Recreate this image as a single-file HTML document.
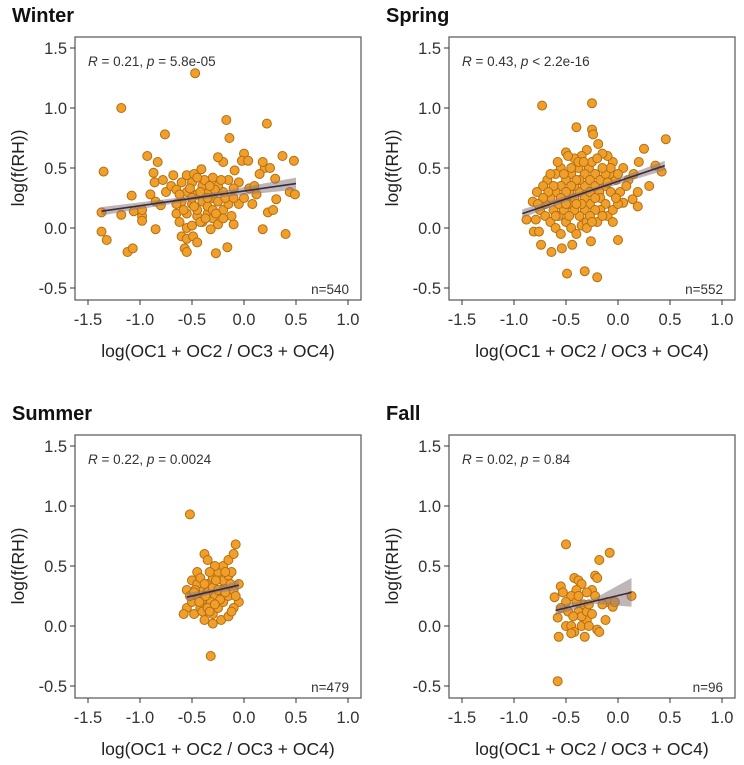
<!DOCTYPE html>
<html><head><meta charset="utf-8">
<style>
body{margin:0;background:#fff;}
svg{display:block;font-family:"Liberation Sans",Arial,sans-serif;}
</style></head>
<body>
<svg id="chart" width="744" height="765" viewBox="0 0 744 765"></svg>
<script>
const panelTitles = ["Winter","Spring","Summer","Fall"];
const statR = ["0.21","0.43","0.22","0.02"];
const statP = ["= 5.8e-05","< 2.2e-16","= 0.0024","= 0.84"];
const sampleN = ["n=540","n=552","n=479","n=96"];
const xTicks = [-1.5,-1.0,-0.5,0.0,0.5,1.0];
const xTickLabels = ["-1.5","-1.0","-0.5","0.0","0.5","1.0"];
const yTicks = [1.5,1.0,0.5,0.0,-0.5];
const yTickLabels = ["1.5","1.0","0.5","0.0","-0.5"];
const fitLines = [[-1.37,0.14,0.5,0.37],[-0.92,0.12,0.45,0.52],[-0.55,0.24,-0.05,0.34],[-0.6,0.13,0.13,0.28]];
const fitBands = [[0.035,0.05],[0.035,0.04],[0.035,0.04],[0.04,0.12]];
const winterPts = [[-0.47,1.29],[-1.18,1.0],[-0.17,0.9],[0.22,0.87],[-0.76,0.78],[-0.14,0.75],[-1.35,0.47],[-0.93,0.6],[-0.83,0.55],[0.37,0.6],[0.48,0.56],[-1.37,0.13],[-1.37,-0.03],[-1.32,-0.1],[-1.12,-0.2],[-1.07,-0.17],[-1.18,0.11],[-1.08,0.27],[-1.06,0.14],[-0.98,0.1],[-0.98,0.06],[-0.98,0.15],[-0.85,-0.01],[-0.6,-0.07],[-0.55,-0.09],[-0.49,-0.07],[-0.57,-0.17],[-0.55,-0.2],[-0.45,-0.12],[-0.27,-0.21],[-0.16,-0.16],[-0.32,-0.01],[-0.1,0.03],[0.18,-0.01],[0.4,-0.05],[0.23,0.13],[0.28,0.15],[0.31,0.24],[0.44,0.3],[0.49,0.28],[0.3,0.41],[0.2,0.5],[0.18,0.55],[0.25,0.5],[0.0,0.62],[-0.02,0.56],[0.04,0.56],[-0.09,0.48],[-0.2,0.55],[-0.25,0.59],[-0.41,0.49],[-0.55,0.44],[-0.68,0.44],[-0.87,0.46],[-0.86,0.38],[-0.78,0.4],[-0.9,0.28],[-0.85,0.22],[-0.8,0.19],[-0.75,0.3],[-0.7,0.35],[-0.65,0.32],[-0.65,0.12],[-0.62,0.05],[-0.55,0.0],[-0.5,0.02],[-0.45,0.1],[-0.4,0.05],[-0.35,0.12],[-0.3,0.08],[-0.25,0.03],[-0.2,0.15],[-0.15,0.2],[-0.12,0.1],[-0.05,0.2],[0.0,0.25],[0.05,0.33],[0.1,0.35],[0.12,0.28],[0.15,0.45],[-0.05,0.38],[-0.1,0.33],[-0.15,0.4],[-0.2,0.3],[-0.25,0.35],[-0.3,0.42],[-0.35,0.3],[-0.4,0.35],[-0.45,0.28],[-0.5,0.38],[-0.55,0.3],[-0.6,0.22],[-0.5,0.2],[-0.45,0.15],[-0.4,0.22],[-0.35,0.18],[-0.3,0.25],[-0.25,0.22],[-0.2,0.08],[-0.55,0.12],[-0.48,0.45],[-0.3,0.15],[-0.38,0.4],[-0.6,0.38],[-0.42,0.05],[-0.5,0.25],[-0.35,0.25],[-0.28,0.32],[-0.18,0.25],[0.08,0.2],[-0.65,0.2],[-0.58,0.15],[-0.52,0.33],[-0.42,0.3],[-0.33,0.35],[-0.22,0.4],[-0.1,0.25],[-0.62,0.28],[-0.45,0.42],[-0.27,0.12],[-0.37,0.08],[-0.48,0.18]];
const springPts = [[-0.73,1.02],[-0.25,1.04],[-0.40,0.84],[-0.25,0.82],[-0.24,0.78],[0.46,0.74],[-0.50,0.63],[-0.19,0.70],[0.25,0.66],[-0.49,-0.38],[-0.32,-0.36],[-0.2,-0.41],[0.0,-0.1],[-0.74,-0.14],[-0.64,-0.2],[-0.54,-0.17],[-0.44,-0.14],[-0.26,-0.11],[-0.88,0.07],[-0.81,-0.03],[-0.79,0.07],[-0.76,-0.03],[0.36,0.52],[0.42,0.47],[0.3,0.35],[0.19,0.3],[0.2,0.55],[0.14,0.24],[0.19,0.18],[0.05,0.21],[0.1,0.4],[0.15,0.45],[0.05,0.5],[-0.05,0.55],[-0.1,0.6],[-0.15,0.62],[-0.3,0.65],[-0.35,0.6],[-0.42,0.58],[-0.55,0.5],[-0.6,0.45],[-0.68,0.4],[-0.72,0.35],[-0.78,0.3],[-0.82,0.22],[-0.75,0.15],[-0.7,0.1],[-0.65,0.05],[-0.6,0.0],[-0.55,-0.05],[-0.5,0.05],[-0.45,0.0],[-0.4,-0.05],[-0.35,0.02],[-0.3,0.05],[-0.2,0.05],[-0.1,0.1],[-0.05,0.15],[0.0,0.2],[0.02,0.3],[-0.02,0.4],[-0.08,0.45],[-0.12,0.35],[-0.18,0.3],[-0.22,0.45],[-0.28,0.5],[-0.32,0.45],[-0.38,0.5],[-0.45,0.45],[-0.5,0.4],[-0.55,0.35],[-0.6,0.3],[-0.65,0.25],[-0.7,0.2],[-0.62,0.15],[-0.57,0.1],[-0.52,0.15],[-0.47,0.2],[-0.42,0.25],[-0.37,0.3],[-0.32,0.35],[-0.27,0.4],[-0.22,0.35],[-0.17,0.25],[-0.12,0.2],[-0.07,0.3],[-0.02,0.25],[-0.27,0.2],[-0.32,0.15],[-0.37,0.1],[-0.42,0.15],[-0.47,0.1],[-0.52,0.25],[-0.57,0.2],[-0.62,0.35],[-0.67,0.3],[-0.47,0.3],[-0.42,0.35],[-0.37,0.4],[-0.32,0.25],[-0.27,0.3],[-0.22,0.25],[-0.17,0.4],[-0.12,0.45],[-0.07,0.5],[-0.17,0.15],[-0.22,0.15],[-0.27,0.1],[-0.35,0.2],[-0.4,0.4],[-0.45,0.35],[-0.5,0.3],[-0.55,0.25],[-0.6,0.1],[-0.38,0.55],[-0.25,0.55],[-0.15,0.5],[-0.3,0.0],[-0.45,0.5],[-0.52,0.45],[-0.65,0.45],[-0.72,0.25],[-0.77,0.2],[0.08,0.35],[0.0,0.45],[-0.58,0.55],[-0.48,0.6],[-0.33,0.55],[-0.2,0.58],[-0.1,0.38],[-0.05,0.05],[-0.15,0.1],[-0.25,0.05],[-0.4,0.2],[-0.5,0.2]];
const summerPts = [[-0.52,0.93],[-0.32,-0.25],[-0.55,0.15],[-0.5,0.2],[-0.45,0.25],[-0.4,0.3],[-0.35,0.35],[-0.3,0.4],[-0.25,0.45],[-0.2,0.5],[-0.15,0.55],[-0.1,0.6],[-0.08,0.68],[-0.38,0.6],[-0.35,0.55],[-0.45,0.45],[-0.5,0.38],[-0.55,0.3],[-0.58,0.1],[-0.48,0.1],[-0.42,0.15],[-0.38,0.05],[-0.3,0.1],[-0.25,0.15],[-0.2,0.2],[-0.15,0.25],[-0.1,0.3],[-0.05,0.35],[-0.05,0.2],[-0.1,0.15],[-0.18,0.35],[-0.22,0.3],[-0.28,0.25],[-0.32,0.2],[-0.4,0.22],[-0.45,0.35],[-0.35,0.28],[-0.3,0.32],[-0.25,0.3],[-0.2,0.38],[-0.15,0.42],[-0.12,0.45],[-0.28,0.5],[-0.33,0.45],[-0.42,0.4],[-0.47,0.3],[-0.52,0.25],[-0.4,0.12],[-0.35,0.15],[-0.22,0.05],[-0.15,0.08],[-0.08,0.25],[-0.18,0.28],[-0.27,0.38],[-0.37,0.25],[-0.3,0.02],[-0.43,0.2],[-0.33,0.12],[-0.23,0.22],[-0.13,0.35],[-0.48,0.28],[-0.38,0.35],[-0.28,0.18],[-0.18,0.45],[-0.12,0.12]];
const fallPts = [[-0.58,-0.46],[-0.5,0.68],[-0.08,0.61],[-0.18,0.55],[-0.61,0.24],[-0.55,0.33],[-0.53,0.28],[-0.42,0.4],[-0.38,0.38],[-0.35,0.35],[-0.4,0.3],[-0.45,0.25],[-0.5,0.2],[-0.55,0.15],[-0.58,0.07],[-0.5,0.0],[-0.45,0.0],[-0.42,-0.05],[-0.35,0.0],[-0.3,0.05],[-0.28,0.0],[-0.2,-0.03],[-0.18,-0.05],[-0.12,0.05],[-0.1,0.2],[-0.05,0.16],[-0.03,0.2],[0.13,0.25],[-0.22,0.42],[-0.2,0.4],[-0.25,0.3],[-0.3,0.28],[-0.33,0.18],[-0.38,0.12],[-0.4,0.2],[-0.35,0.08],[-0.3,0.12],[-0.25,0.1],[-0.22,0.25],[-0.15,0.18],[-0.48,0.12],[-0.43,0.08],[-0.57,-0.09],[-0.32,-0.09],[-0.45,-0.06],[-0.38,0.25],[-0.28,0.18]];
const allPts = [winterPts, springPts, summerPts, fallPts];
const offsets = [[0,0],[374,0],[0,398],[374,398]];

const NS = "http://www.w3.org/2000/svg";
const svg = document.getElementById("chart");
function mk(tag, attrs, parent, text){
  const e = document.createElementNS(NS, tag);
  for (const k in attrs) e.setAttribute(k, attrs[k]);
  if (text !== undefined) e.textContent = text;
  parent.appendChild(e);
  return e;
}
function sx(v){ return 88 + (v + 1.5) * 104; }
function sy(v){ return 228 - v * 120; }

panelTitles.forEach((title, i) => {
  const g = mk("g", {transform: "translate(" + offsets[i][0] + "," + offsets[i][1] + ")"}, svg);
  
  
  const t = mk("text", {x: 12, y: 22, "font-size": 20, "font-weight": "bold", fill: "#111"}, g, title);
  
  
  const box = mk("rect", {x: 75, y: 37, width: 286, height: 263, fill: "#fff", stroke: "#555", "stroke-width": 1.2}, g);
  
  
  xTicks.forEach((v, j) => {
    const tk = mk("line", {x1: sx(v), x2: sx(v), y1: 300, y2: 305, stroke: "#333"}, g);
    
    
    const lb = mk("text", {x: sx(v), y: 325, "text-anchor": "middle", "font-size": 16.5, fill: "#333"}, g, xTickLabels[j]);
    
    
  });
  yTicks.forEach((v, j) => {
    const tk = mk("line", {x1: 70, x2: 75, y1: sy(v), y2: sy(v), stroke: "#333"}, g);
    
    
    const lb = mk("text", {x: 67, y: sy(v) + 6, "text-anchor": "end", "font-size": 16.5, fill: "#333"}, g, yTickLabels[j]);
    
    
  });
  const yl = mk("text", {transform: "translate(24,168) rotate(-90)", "text-anchor": "middle", "font-size": 17.5, fill: "#222"}, g, "log(f(RH))");
  
  
  const xl = mk("text", {x: 218, y: 357, "text-anchor": "middle", "font-size": 17.5, fill: "#222"}, g, "log(OC1 + OC2 / OC3 + OC4)");
  
  
  const st = mk("text", {x: 88, y: 66, "font-size": 13.5, fill: "#333"}, g);
  
  
  mk("tspan", {"font-style": "italic"}, st, "R");
  mk("tspan", {}, st, " = " + statR[i] + ", ");
  mk("tspan", {"font-style": "italic"}, st, "p");
  mk("tspan", {}, st, " " + statP[i]);
  const nt = mk("text", {x: 349, y: 294, "text-anchor": "end", "font-size": 13.5, fill: "#333"}, g, sampleN[i]);
  
  
  allPts[i].forEach(p => {
    const c = mk("circle", {cx: sx(p[0]), cy: sy(p[1]), r: 4.5, fill: "#f0a02a", stroke: "#b36d12", "stroke-width": 1}, g);
    
    
  });
  const f = fitLines[i], b = fitBands[i];
  const band = mk("polygon", {points:
    sx(f[0]) + "," + sy(f[1] + b[0]) + " " + sx((f[0]+f[2])/2) + "," + sy((f[1]+f[3])/2 + b[0]*0.5) + " " + sx(f[2]) + "," + sy(f[3] + b[1]) + " " +
    sx(f[2]) + "," + sy(f[3] - b[1]) + " " + sx((f[0]+f[2])/2) + "," + sy((f[1]+f[3])/2 - b[0]*0.5) + " " + sx(f[0]) + "," + sy(f[1] - b[0]),
    fill: "#8a7a80", "fill-opacity": 0.55}, g);
  
  
  const ln = mk("line", {x1: sx(f[0]), y1: sy(f[1]), x2: sx(f[2]), y2: sy(f[3]), stroke: "#3a2a3a", "stroke-width": 1.6}, g);
  
  
});
</script>
</body></html>
